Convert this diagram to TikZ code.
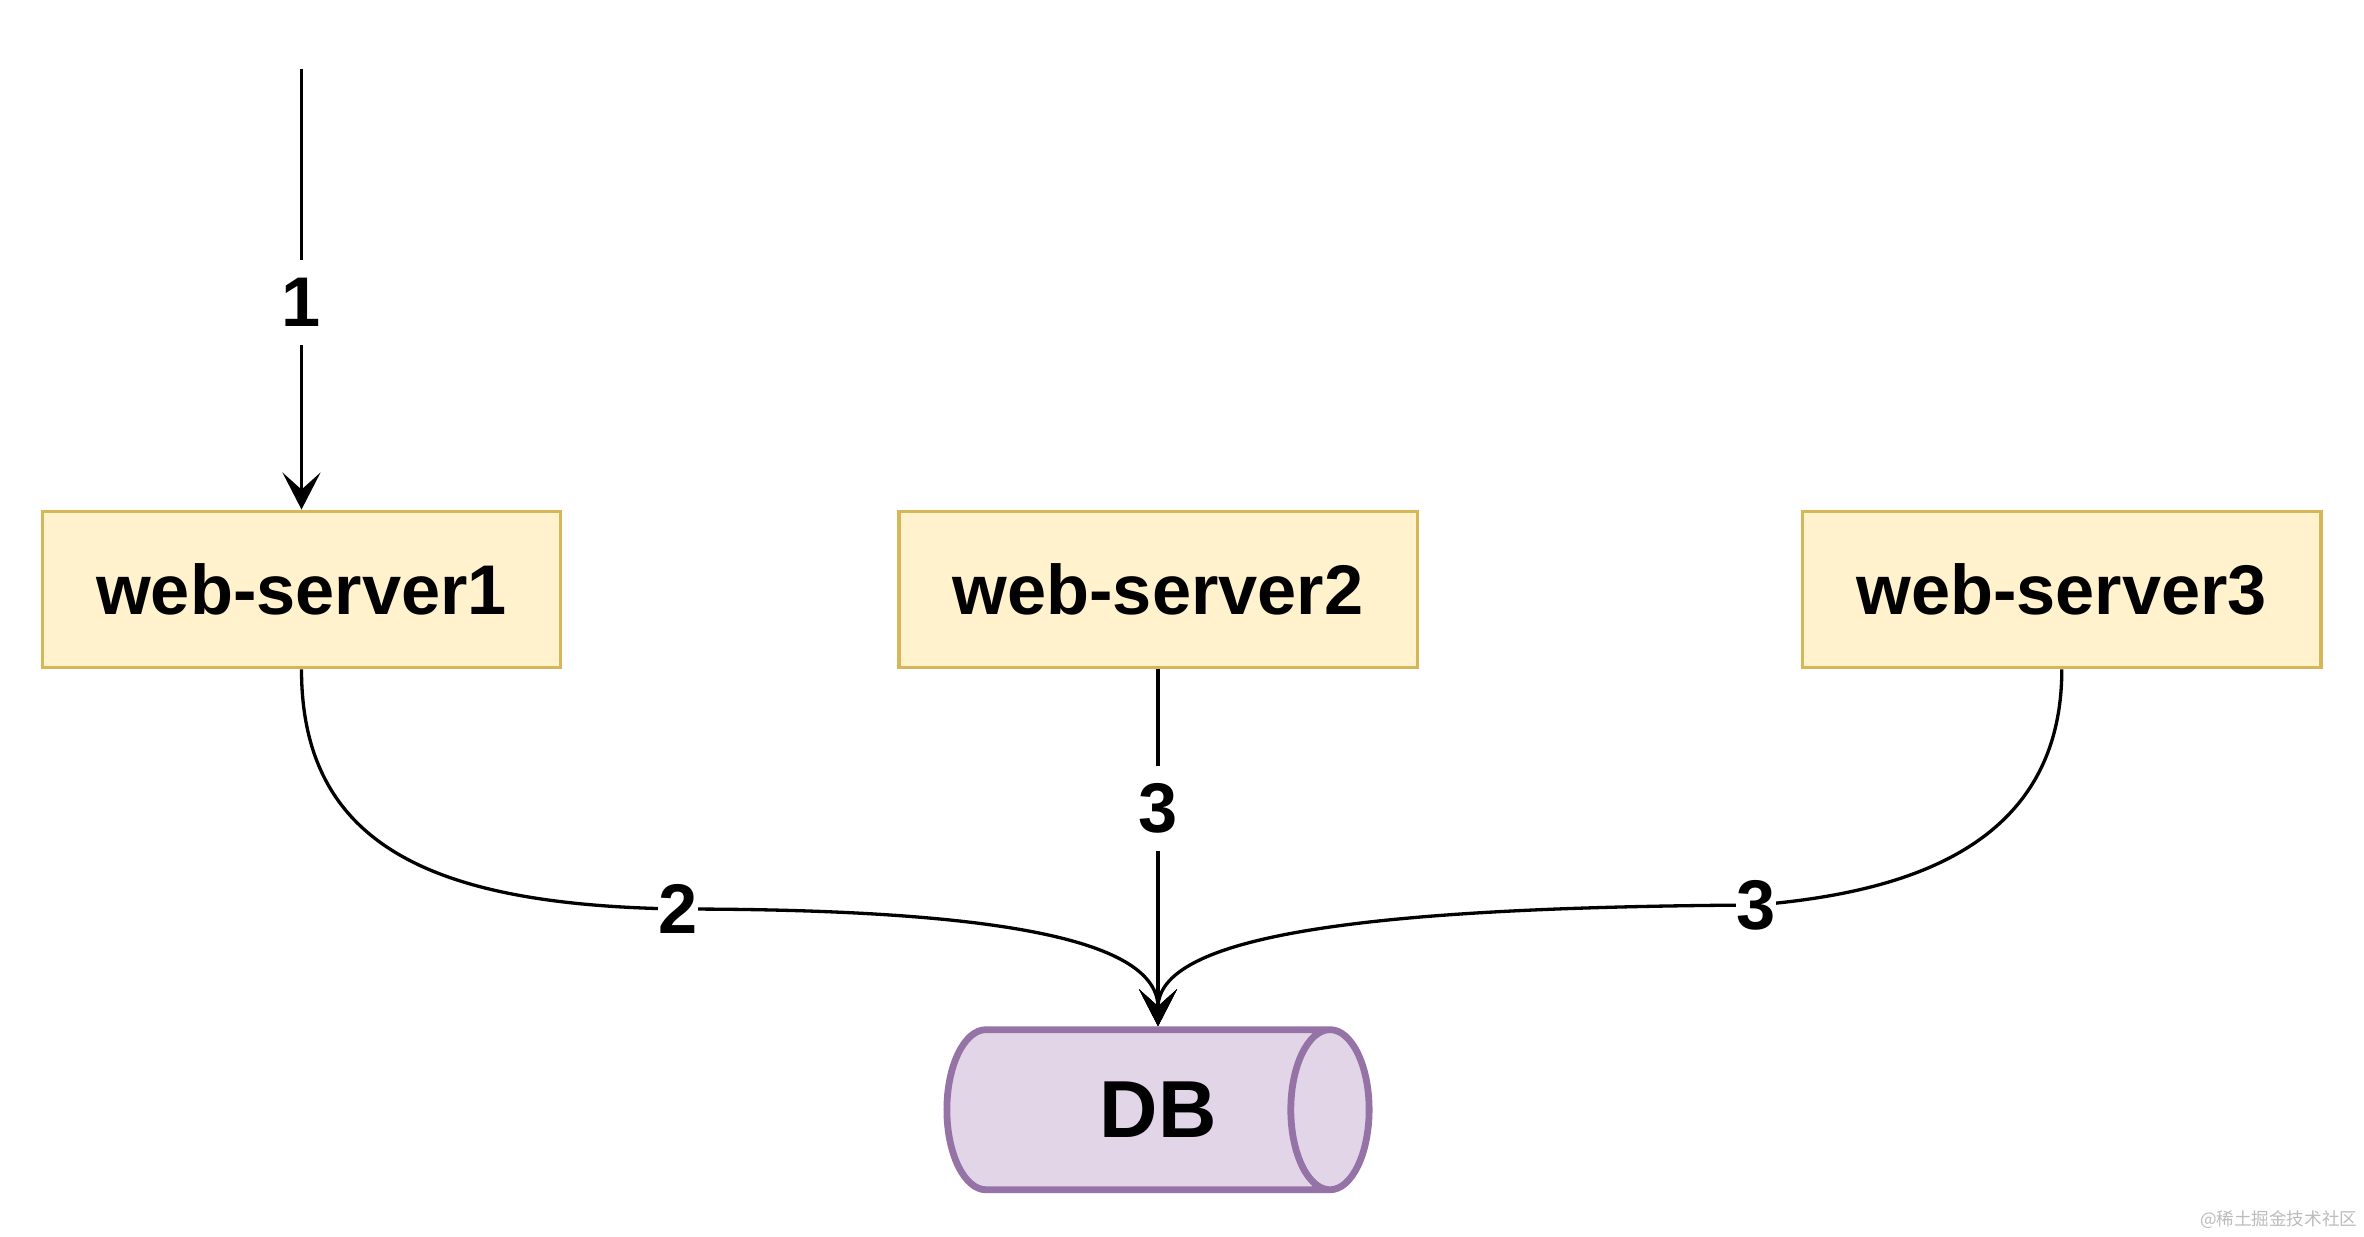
\documentclass[tikz,border=0pt]{standalone}
\usepackage{fontspec}
\setmainfont{Liberation Sans}
\newfontfamily\cjk{Noto Sans CJK SC}
\usetikzlibrary{arrows.meta,shapes.geometric}
\definecolor{wsfill}{HTML}{FFF2CC}
\definecolor{wsline}{HTML}{D6B656}
\definecolor{dbfill}{HTML}{E1D5E7}
\definecolor{dbline}{HTML}{9673A6}
\definecolor{markgray}{HTML}{BBBBBB}

\begin{document}
\begin{tikzpicture}[x=0.01cm,y=-0.01cm,
        server/.style={draw=wsline,fill=wsfill,line width=0.94pt,minimum width=5.18cm,minimum height=1.565cm,inner sep=0pt,font=\fontsize{20}{24}\selectfont\bfseries},
        store/.style={cylinder,draw=dbline,fill=dbfill,line width=1.93pt,minimum height=4.22cm,minimum width=1.6cm,shape aspect=1.35,inner sep=0pt,text height=16.5pt,text depth=0pt},
        conn/.style={line width=0.94pt,-{Stealth[length=0.37cm,width=0.38cm,inset=0.17cm]}},
        lbl/.style={fill=white,inner sep=0pt,minimum height=24pt,font=\fontsize{20}{24}\selectfont\bfseries}]
    \useasboundingbox (0,0) rectangle (2364,1236);
    % servers and database
    \node[server] (ws1) at (301.5,589.5) {web-server1};
    \node[server] (ws2) at (1158,589.5) {web-server2};
    \node[server] (ws3) at (2061.8,589.5) {web-server3};
    \node[store,anchor=shape center] (db) at (1158,1109.7) {};
    \node[font=\fontsize{23}{27}\selectfont\bfseries] (dbtext) at (db.shape center) {DB};
    \coordinate (dbtop) at (db.shape center |- db.north);
    % request coming in
    \coordinate (entry) at (301.5,69);
    \draw[conn] (entry) -- node[lbl,pos=0.53] {1} (ws1.north);
    % calls to the database
    \draw[conn] (ws2.south) -- node[lbl,pos=0.39] {3} (dbtop);
    \draw[conn] (ws1.south) .. controls (301.5,850) and (440,905) .. (678,909) node[lbl] {2}
        .. controls (1000,909) and (1158,940) .. (dbtop);
    \draw[conn] (ws3.south) .. controls (2061.8,850) and (1900,893) .. (1756,905) node[lbl] {3}
        .. controls (1400,907) and (1158,930) .. (dbtop);
    % watermark
    \node[anchor=east,text=markgray,inner sep=0pt,font=\cjk\fontsize{5}{6}\selectfont] (mark) at (2358,1220) {@稀土掘金技术社区};
\end{tikzpicture}
\end{document}
